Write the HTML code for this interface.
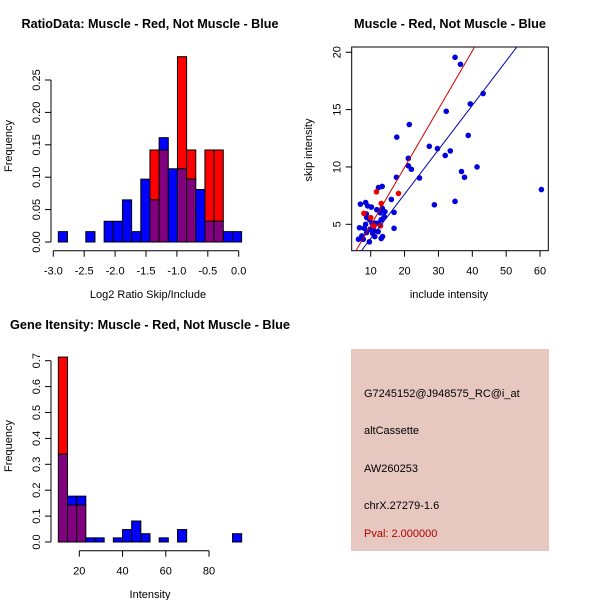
<!DOCTYPE html>
<html><head><meta charset="utf-8"><style>
body{margin:0;background:#fff;}
svg{display:block;font-family:"Liberation Sans",Arial,sans-serif;}
</style></head><body>
<svg id="s" width="600" height="600" viewBox="0 0 600 600" xmlns="http://www.w3.org/2000/svg">
<rect width="600" height="600" fill="#fff"/>
<text x="150" y="28" font-size="13" font-weight="bold" text-anchor="middle" textLength="257" lengthAdjust="spacingAndGlyphs">RatioData: Muscle - Red, Not Muscle - Blue</text>
<text x="450" y="28" font-size="13" font-weight="bold" text-anchor="middle" textLength="192" lengthAdjust="spacingAndGlyphs">Muscle - Red, Not Muscle - Blue</text>
<text x="150" y="329" font-size="13" font-weight="bold" text-anchor="middle" textLength="280" lengthAdjust="spacingAndGlyphs">Gene Itensity: Muscle - Red, Not Muscle - Blue</text>
<text x="148" y="298" font-size="11" text-anchor="middle">Log2 Ratio Skip/Include</text>
<text transform="translate(12,146) rotate(-90)" font-size="11" text-anchor="middle">Frequency</text>
<text x="449" y="298" font-size="11" text-anchor="middle">include intensity</text>
<text transform="translate(312,150) rotate(-90)" font-size="11" text-anchor="middle">skip intensity</text>
<text x="150" y="598" font-size="11" text-anchor="middle">Intensity</text>
<text transform="translate(12,446) rotate(-90)" font-size="11" text-anchor="middle">Frequency</text>
<g>
<rect x="351" y="349" width="198" height="202" fill="#e6c8c0"/>
<text x="364" y="397" font-size="11">G7245152@J948575_RC@i_at</text>
<text x="364" y="434" font-size="11">altCassette</text>
<text x="364" y="472" font-size="11">AW260253</text>
<text x="364" y="509" font-size="11">chrX.27279-1.6</text>
<text x="364" y="537" font-size="11" fill="#b00000">Pval: 2.000000</text>
</g>
</svg>
<script>
// ---- Ratio histogram data ----
const ratioBinStart = -2.919;
const ratioBinWidth = 0.1483;
const ratioBlue = [0.016,0,0,0.016,0,0.032,0.032,0.065,0.016,0.097,0.065,0.161,0.113,0.113,0.097,0.081,0.032,0.032,0.016,0.016];
const ratioRed  = [0,0,0,0,0,0,0,0,0,0,0.142,0.142,0,0.286,0.142,0,0.142,0.142,0,0];
const ratioXTicks = [-3.0,-2.5,-2.0,-1.5,-1.0,-0.5,0.0];
const ratioXLabels = ["-3.0","-2.5","-2.0","-1.5","-1.0","-0.5","0.0"];
const ratioYTicks = [0,0.05,0.10,0.15,0.20,0.25];
const ratioYLabels = ["0.00","0.05","0.10","0.15","0.20","0.25"];
// ---- Intensity histogram data ----
const intBinStart = 10.3;
const intBinWidth = 4.24;
const intBlue = [0.339,0.177,0.177,0.016,0.016,0,0.016,0.048,0.081,0.032,0,0.016,0,0.048,0,0,0,0,0,0.032];
const intRed  = [0.714,0.143,0.143,0,0,0,0,0,0,0,0,0,0,0,0,0,0,0,0,0];
const intXTicks = [20,40,60,80];
const intXLabels = ["20","40","60","80"];
const intYTicks = [0,0.1,0.2,0.3,0.4,0.5,0.6,0.7];
const intYLabels = ["0.0","0.1","0.2","0.3","0.4","0.5","0.6","0.7"];
// ---- Scatter data ----
const blueX = [34.9,36.5,43.2,39.4,32.3,21.4,17.7,38.8,27.3,29.7,33.5,32.0,21.1,36.8,41.4,21.1,22.0,37.7,24.4,17.6,28.8,34.9,60.4,16.1,16.9,16.9,13.4,12.3,6.95,8.5,9.1,10.2,11.8,13.4,14.2,12.8,8.7,8.8,9.7,13.1,12.3,11.4,10.4,8.5,6.7,8.1,9.8,11.0,12.2,10.6,8.8,7.4,11.2,13.5,13.1,6.4,9.6,7.8,14.0];
const blueY = [19.56,18.95,16.4,15.5,14.85,13.7,12.6,12.75,11.8,11.6,11.4,11.0,10.75,9.6,10.0,10.1,9.8,9.1,9.04,9.1,6.7,7.0,8.03,7.17,6.04,4.65,8.3,8.2,6.76,6.9,6.6,6.5,6.27,6.4,6.1,6.0,5.9,5.6,5.4,5.4,5.1,5.1,5.1,5.0,4.7,4.65,4.57,4.45,4.36,4.2,4.28,3.99,3.93,3.93,3.76,3.70,3.47,3.7,5.66];
const redX = [11.7,18.2,13.1,8.0,10.0,12.9,11.0];
const redY = [7.83,7.69,6.82,5.95,5.58,4.86,4.86];
const redFit = [-0.17,0.507];   // intercept, slope
const blueFit = [-0.11,0.387];
const scXTicks = [10,20,30,40,50,60];
const scYTicks = [5,10,15,20];

const svg = document.getElementById('s');
const NS = 'http://www.w3.org/2000/svg';
function mk(tag, attrs, parent){
  const e = document.createElementNS(NS, tag);
  for (const k in attrs) e.setAttribute(k, attrs[k]);
  (parent||svg).appendChild(e);
  return e;
}

function histogram(prefix, binStart, binW, blue, red, sx, sy, xT, xL, yT, yL, axisY, axisX){
  const g = mk('g', {});
  
  
  for (let i = 0; i < blue.length; i++){
    const x0 = sx(binStart + i*binW), x1 = sx(binStart + (i+1)*binW);
    const b = blue[i], r = red[i];
    const lo = Math.min(b, r), hi = Math.max(b, r);
    if (hi > 0){
      const top = mk('rect', {x:x0, y:sy(hi), width:x1-x0, height:sy(lo)-sy(hi), fill: b>r ? '#0000ff' : '#ff0000', stroke:'#000', 'stroke-width':1}, g);
      
      
    }
    if (lo > 0){
      const ov = mk('rect', {x:x0, y:sy(lo), width:x1-x0, height:sy(0)-sy(lo), fill:'#800080', stroke:'#000', 'stroke-width':1}, g);
      
      
    }
  }
  const xa = mk('g', {});
  
  
  mk('line', {x1:sx(xT[0]), x2:sx(xT[xT.length-1]), y1:axisY, y2:axisY, stroke:'#000'}, xa);
  xT.forEach((v,i)=>{
    mk('line', {x1:sx(v), x2:sx(v), y1:axisY, y2:axisY+6, stroke:'#000'}, xa);
    const t = mk('text', {x:sx(v), y:axisY+24, 'font-size':11, 'text-anchor':'middle'}, xa);
    t.textContent = xL[i];
  });
  const ya = mk('g', {});
  
  
  mk('line', {x1:axisX, x2:axisX, y1:sy(yT[0]), y2:sy(yT[yT.length-1]), stroke:'#000'}, ya);
  yT.forEach((v,i)=>{
    mk('line', {x1:axisX-6, x2:axisX, y1:sy(v), y2:sy(v), stroke:'#000'}, ya);
    const t = mk('text', {transform:`translate(${axisX-11},${sy(v)}) rotate(-90)`, 'font-size':11, 'text-anchor':'middle'}, ya);
    t.textContent = yL[i];
  });
}

const rsx = v => 53.3 + (v + 3) * 61.8;
const rsy = v => 242 - v * 648;
histogram('ratio', ratioBinStart, ratioBinWidth, ratioBlue, ratioRed, rsx, rsy, ratioXTicks, ratioXLabels, ratioYTicks, ratioYLabels, 250.7, 51);

const isx = v => 79.3 + (v - 20) * 2.162;
const isy = v => 542 - v * 259;
histogram('intensity', intBinStart, intBinWidth, intBlue, intRed, isx, isy, intXTicks, intXLabels, intYTicks, intYLabels, 550.7, 51);

const box = {x0:351.7, x1:548.3, y0:47, y1:250.7};
const ssx = v => 370.7 + (v - 10) * 3.387;
const ssy = v => 224.3 - (v - 5) * 11.47;
const sg = mk('g', {});


const defs = mk('defs', {}, sg);
const cp = mk('clipPath', {id:'clipbox'}, defs);
mk('rect', {x:box.x0, y:box.y0, width:box.x1-box.x0, height:box.y1-box.y0}, cp);
const frame = mk('rect', {x:box.x0, y:box.y0, width:box.x1-box.x0, height:box.y1-box.y0, fill:'none', stroke:'#000'}, sg);


const pts = mk('g', {'clip-path':'url(#clipbox)'}, sg);
blueX.forEach((x,i)=>{
  const c = mk('circle', {cx:ssx(x), cy:ssy(blueY[i]), r:2.8, fill:'#0000dd'}, pts);
  
  
});
redX.forEach((x,i)=>{
  const c = mk('circle', {cx:ssx(x), cy:ssy(redY[i]), r:2.8, fill:'#ee0000'}, pts);
  
  
});
[[redFit,'#cc0000','red-fit-line'],[blueFit,'#0000aa','blue-fit-line']].forEach(([f,col,nm])=>{
  const xa = 0, xb = 80;
  const l = mk('line', {x1:ssx(xa), y1:ssy(f[0]+f[1]*xa), x2:ssx(xb), y2:ssy(f[0]+f[1]*xb), stroke:col, 'stroke-width':1}, pts);
  
  
});
const sxa = mk('g', {}, sg);


scXTicks.forEach(v=>{
  mk('line', {x1:ssx(v), x2:ssx(v), y1:box.y1, y2:box.y1+6, stroke:'#000'}, sxa);
  const t = mk('text', {x:ssx(v), y:box.y1+24, 'font-size':11, 'text-anchor':'middle'}, sxa);
  t.textContent = String(v);
});
const sya = mk('g', {}, sg);


scYTicks.forEach(v=>{
  mk('line', {x1:box.x0-6, x2:box.x0, y1:ssy(v), y2:ssy(v), stroke:'#000'}, sya);
  const t = mk('text', {transform:`translate(${box.x0-11},${ssy(v)}) rotate(-90)`, 'font-size':11, 'text-anchor':'middle'}, sya);
  t.textContent = String(v);
});
</script>
</body></html>
